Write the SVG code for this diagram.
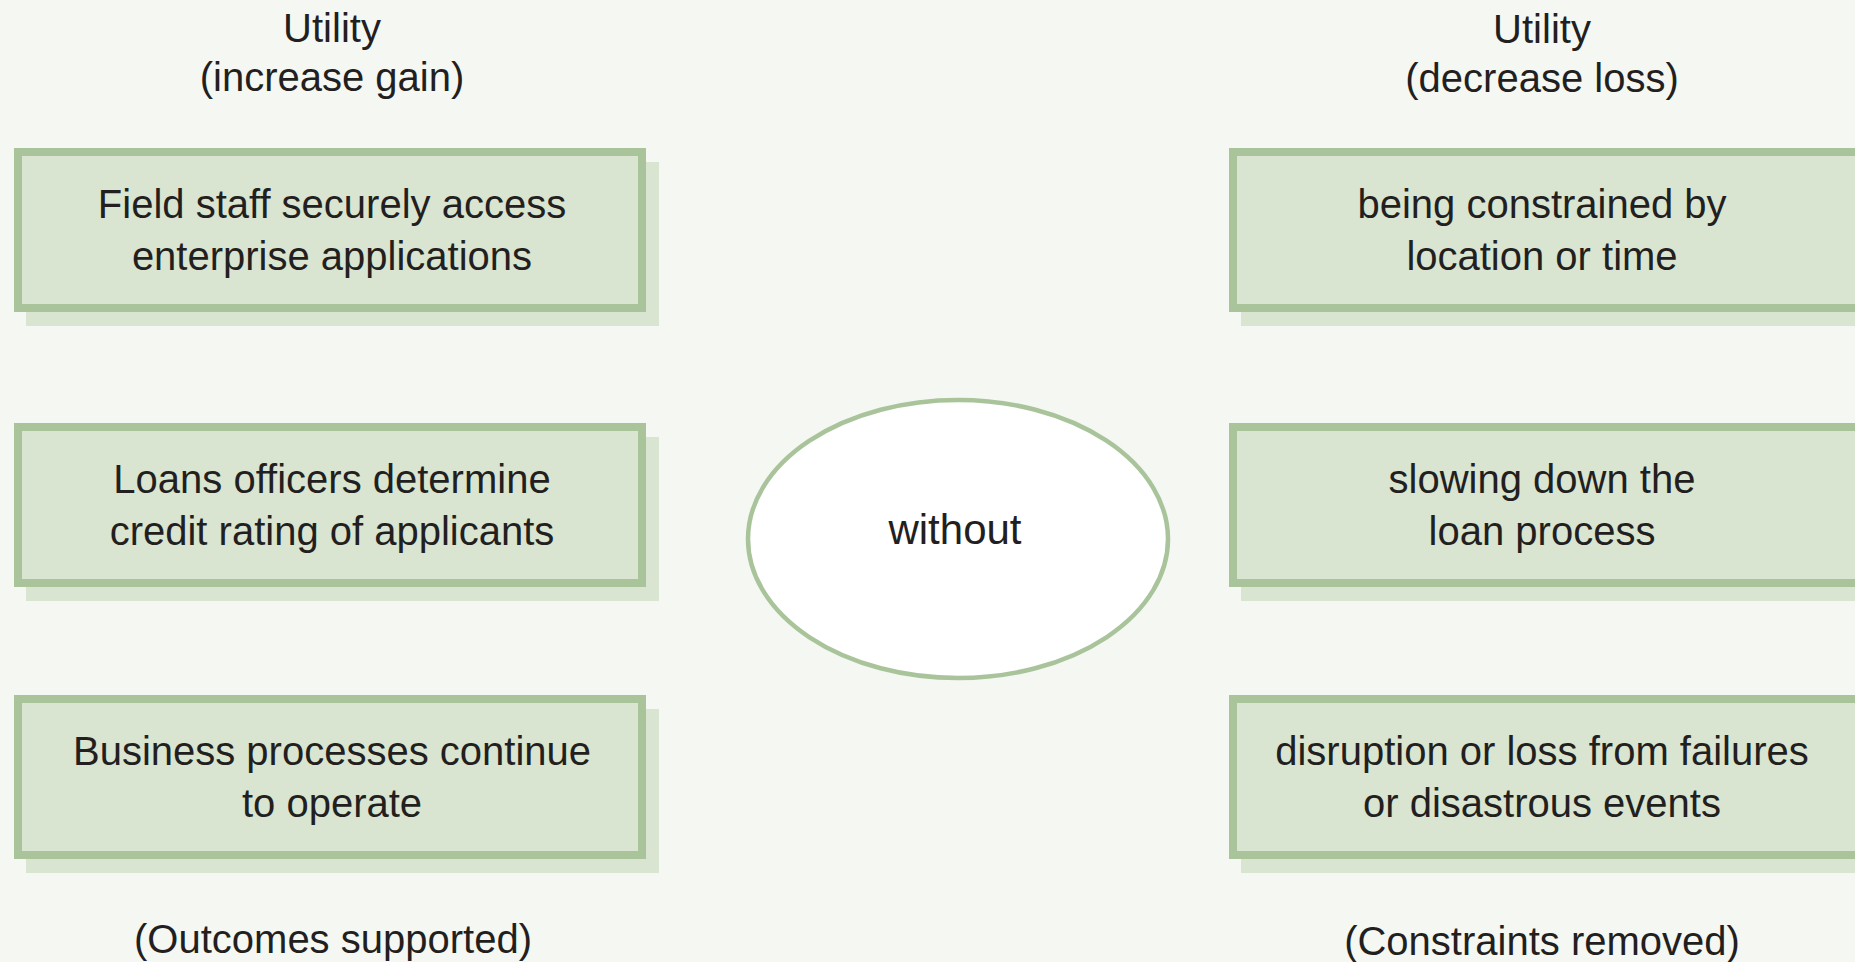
<svg xmlns="http://www.w3.org/2000/svg" width="1855" height="962" viewBox="0 0 1855 962">
<style>
  .bg { fill: #f5f7f2; }
  .shadow { fill: #d9e5d0; }
  .box { fill: #d9e5d0; stroke: #a9c49b; stroke-width: 8; }
  .ell { fill: #ffffff; stroke: #a9c49b; stroke-width: 4.5; }
  text { font-family: "Liberation Sans", Arial, sans-serif; font-size: 40px; fill: #231f20; text-anchor: middle; }
</style>
<rect class="bg" x="0" y="0" width="1855" height="962"/>

<g id="header-left">
  <text x="332" y="42">Utility</text>
  <text x="332" y="91">(increase gain)</text>
</g>
<g id="header-right">
  <text x="1542" y="43">Utility</text>
  <text x="1542" y="92">(decrease loss)</text>
</g>

<g id="connectors"></g>

<g id="box-field-staff">
  <rect class="shadow" x="26" y="162" width="633" height="164"/>
  <rect class="box" x="18" y="152" width="624" height="156"/>
  <text x="332" y="218">Field staff securely access</text>
  <text x="332" y="270">enterprise applications</text>
</g>
<g id="box-loans-officers">
  <rect class="shadow" x="26" y="437" width="633" height="164"/>
  <rect class="box" x="18" y="427" width="624" height="156"/>
  <text x="332" y="493">Loans officers determine</text>
  <text x="332" y="545">credit rating of applicants</text>
</g>
<g id="box-business-processes">
  <rect class="shadow" x="26" y="709" width="633" height="164"/>
  <rect class="box" x="18" y="699" width="624" height="156"/>
  <text x="332" y="765">Business processes continue</text>
  <text x="332" y="817">to operate</text>
</g>

<g id="without">
  <ellipse class="ell" cx="958" cy="539" rx="210" ry="139"/>
  <text x="955" y="544" style="font-size:42px">without</text>
</g>

<g id="box-constrained">
  <rect class="shadow" x="1241" y="162" width="640" height="164"/>
  <rect class="box" x="1233" y="152" width="640" height="156"/>
  <text x="1542" y="218">being constrained by</text>
  <text x="1542" y="270">location or time</text>
</g>
<g id="box-slowing">
  <rect class="shadow" x="1241" y="437" width="640" height="164"/>
  <rect class="box" x="1233" y="427" width="640" height="156"/>
  <text x="1542" y="493">slowing down the</text>
  <text x="1542" y="545">loan process</text>
</g>
<g id="box-disruption">
  <rect class="shadow" x="1241" y="709" width="640" height="164"/>
  <rect class="box" x="1233" y="699" width="640" height="156"/>
  <text x="1542" y="765">disruption or loss from failures</text>
  <text x="1542" y="817">or disastrous events</text>
</g>

<g id="footer-left">
  <text x="333" y="953">(Outcomes supported)</text>
</g>
<g id="footer-right">
  <text x="1542" y="955">(Constraints removed)</text>
</g>
</svg>
